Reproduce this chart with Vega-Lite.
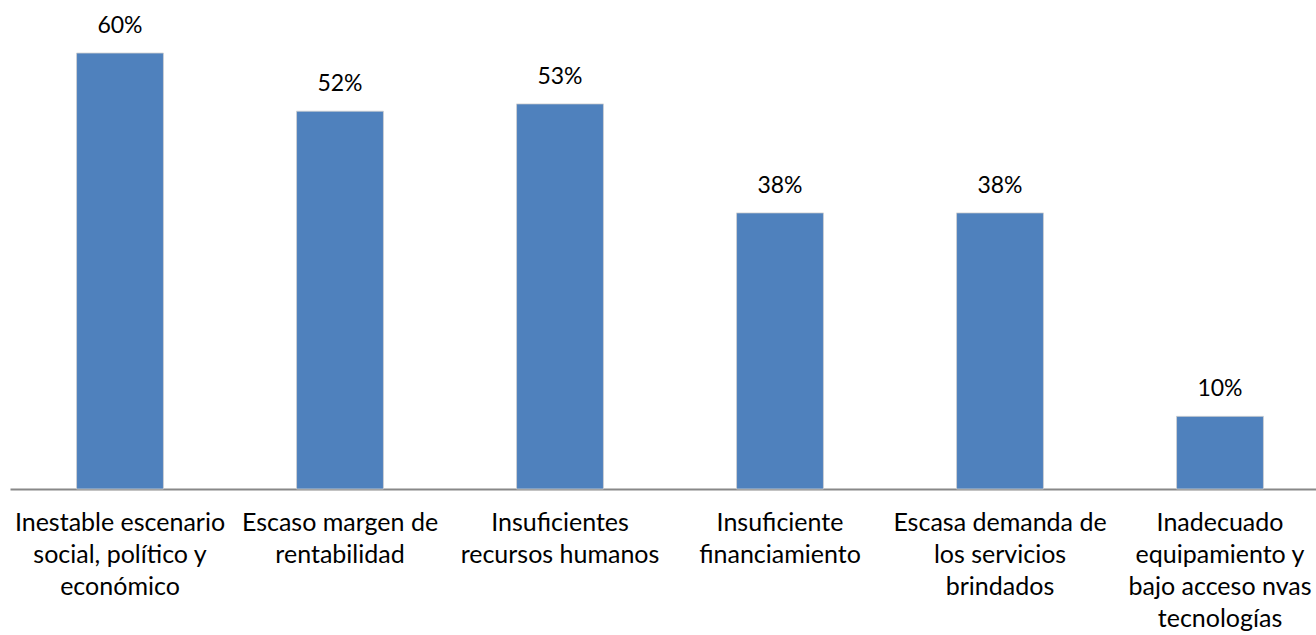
{
  "$schema": "https://vega.github.io/schema/vega-lite/v6.json",
  "autosize": "none",
  "width": 1320,
  "height": 489,
  "padding": {"left": 10, "top": 0, "right": 0, "bottom": 146},
  "background": "white",
  "config": {
    "view": {"stroke": null},
    "font": "Lato"
  },
  "data": {
    "values": [
      {"categoria": "Inestable escenario|social, político y|económico", "valor": 60, "etiqueta": "60%"},
      {"categoria": "Escaso margen de|rentabilidad", "valor": 52, "etiqueta": "52%"},
      {"categoria": "Insuficientes|recursos humanos", "valor": 53, "etiqueta": "53%"},
      {"categoria": "Insuficiente|financiamiento", "valor": 38, "etiqueta": "38%"},
      {"categoria": "Escasa demanda de|los servicios|brindados", "valor": 38, "etiqueta": "38%"},
      {"categoria": "Inadecuado|equipamiento y|bajo acceso nvas|tecnologías", "valor": 10, "etiqueta": "10%"}
    ]
  },
  "encoding": {
    "x": {
      "field": "categoria",
      "type": "nominal",
      "sort": null,
      "scale": {"paddingInner": 0.605, "paddingOuter": 0.3025},
      "axis": {
        "title": null,
        "labelAngle": 0,
        "labelExpr": "split(datum.label, '|')",
        "labelFontSize": 25,
        "labelColor": "#000000",
        "labelLineHeight": 32,
        "labelPadding": 21,
        "labelLimit": 0,
        "labelBaseline": "top",
        "ticks": false,
        "domainColor": "#888888",
        "domainWidth": 2,
        "grid": false
      }
    },
    "y": {
      "field": "valor",
      "type": "quantitative",
      "scale": {"domain": [0, 67.3], "nice": false},
      "axis": null
    }
  },
  "layer": [
    {
      "mark": {"type": "bar", "color": "#4F81BD", "stroke": "#d0d0d0", "strokeWidth": 0.8}
    },
    {
      "mark": {"type": "text", "baseline": "alphabetic", "dy": -20, "fontSize": 23, "color": "#000000"},
      "encoding": {"text": {"field": "etiqueta"}}
    }
  ]
}
